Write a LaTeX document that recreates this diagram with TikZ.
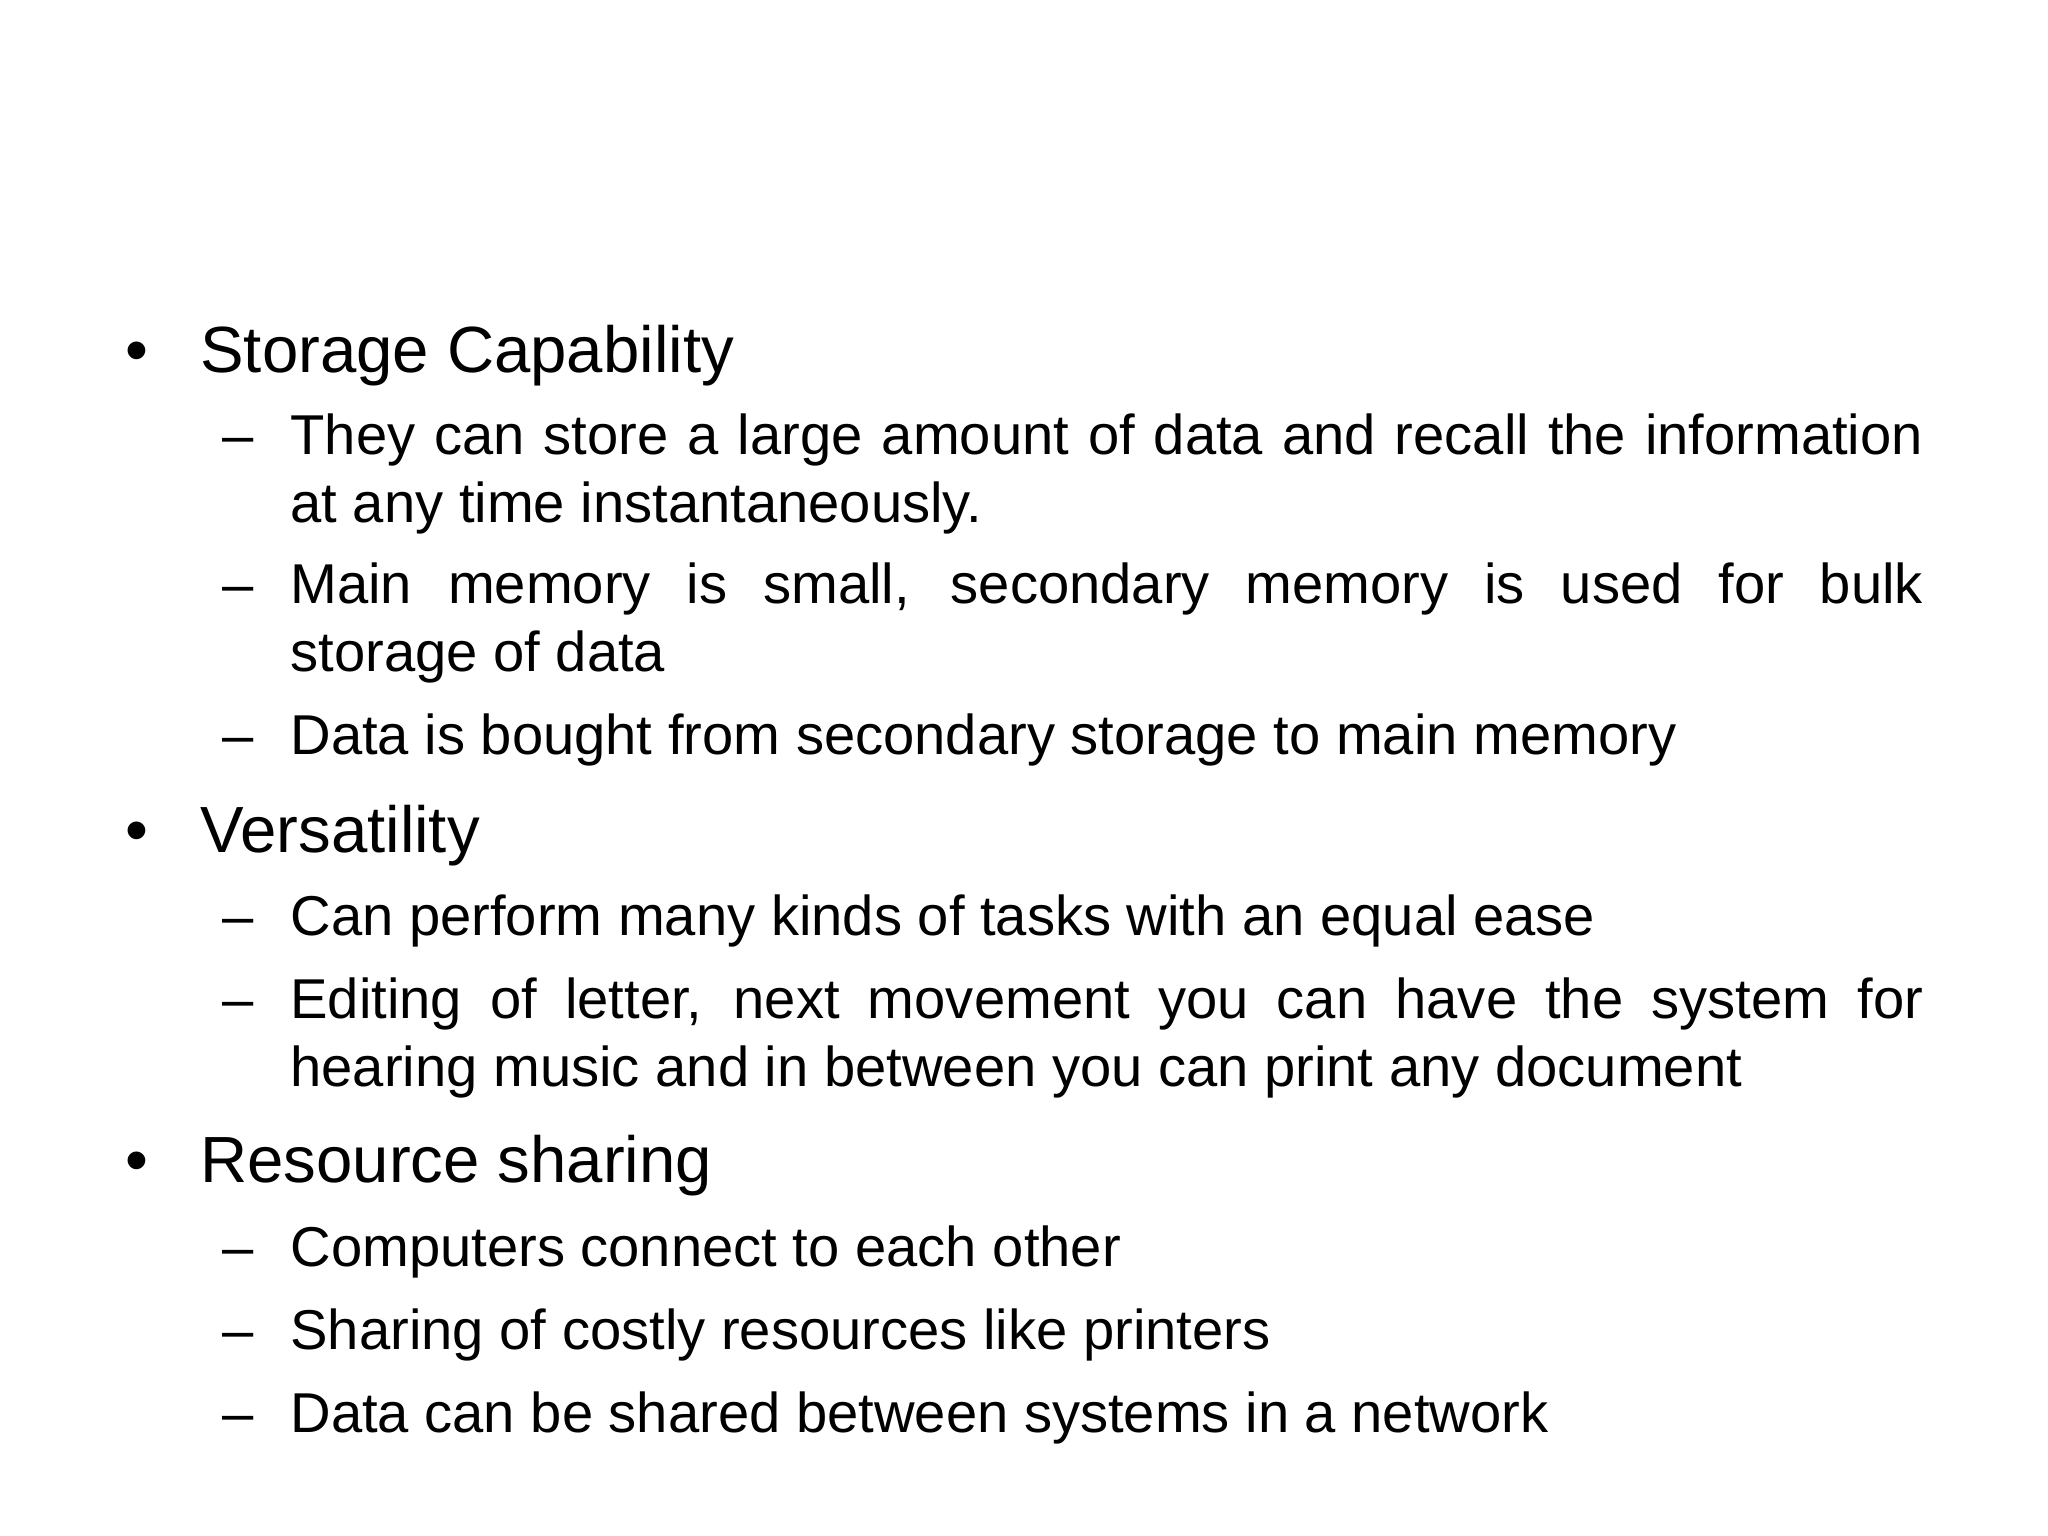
\documentclass[tikz,border=0pt]{standalone}
\usepackage{fontspec}
\setmainfont{Liberation Sans}
\begin{document}
\begin{tikzpicture}[x=0.5pt,y=-0.5pt,
  every node/.style={anchor=base west,inner sep=0pt},
  lone/.style={font=\fontsize{25}{30}\selectfont},
  ltwo/.style={font=\fontsize{21.5}{26}\selectfont}]
\useasboundingbox[fill=white] (0,0) rectangle (1568,1176);
% level 1
\node[lone] (b1) at (96,285) {•};
\node[lone] (t1) at (153,285) {Storage Capability};
\node[lone] (b2) at (96,653) {•};
\node[lone] (t2) at (153,653) {Versatility};
\node[lone] (b3) at (96,905) {•};
\node[lone] (t3) at (153,905) {Resource sharing};
% dashes
\foreach \y [count=\i] in {348,462,578,716,780,970,1033,1097}
  \node[ltwo] (d\i) at (170,\y) {–};
% sub items
\node[ltwo] (s1a) at (222,348) {\makebox[625pt][s]{They can store a large amount of data and recall the information}};
\node[ltwo] (s1b) at (222,400) {at any time instantaneously.};
\node[ltwo] (s2a) at (222,462) {\makebox[625pt][s]{Main memory is small, secondary memory is used for bulk}};
\node[ltwo] (s2b) at (222,514) {storage of data};
\node[ltwo] (s3) at (222,578) {Data is bought from secondary storage to main memory};
\node[ltwo] (s4) at (222,716) {Can perform many kinds of tasks with an equal ease};
\node[ltwo] (s5a) at (222,780) {\makebox[625pt][s]{Editing of letter, next movement you can have the system for}};
\node[ltwo] (s5b) at (222,832) {hearing music and in between you can print any document};
\node[ltwo] (s6) at (222,970) {Computers connect to each other};
\node[ltwo] (s7) at (222,1033) {Sharing of costly resources like printers};
\node[ltwo] (s8) at (222,1097) {Data can be shared between systems in a network};
\end{tikzpicture}
\end{document}
